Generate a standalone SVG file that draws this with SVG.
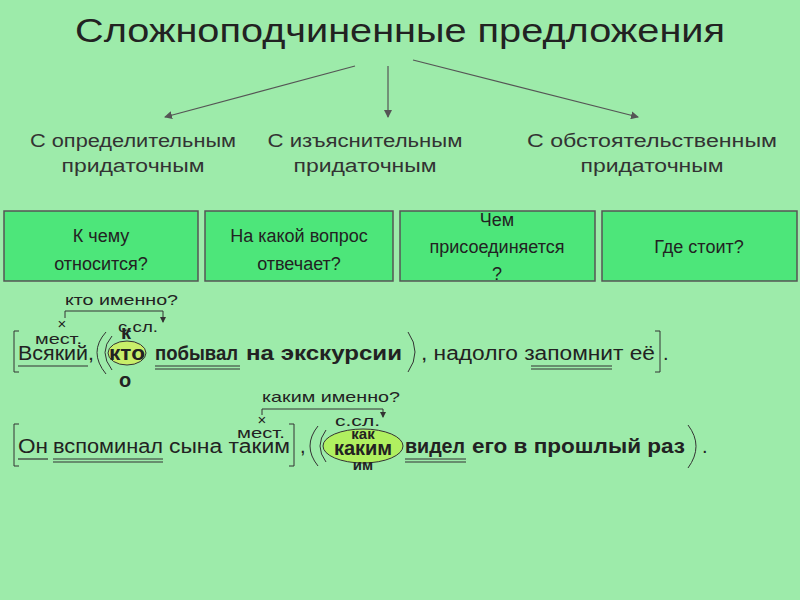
<svg xmlns="http://www.w3.org/2000/svg" width="800" height="600" viewBox="0 0 800 600">
<defs>
<marker id="ah" markerWidth="8" markerHeight="8" refX="7" refY="4" orient="auto" markerUnits="userSpaceOnUse"><path d="M0,0 L8,4 L0,8 z" fill="#555"/></marker>
<marker id="sa" markerWidth="6" markerHeight="6" refX="5" refY="3" orient="auto" markerUnits="userSpaceOnUse"><path d="M0,0 L6,3 L0,6 z" fill="#333"/></marker>
<style>
text{font-family:"Liberation Sans",Arial,sans-serif;fill:#222}
.lab{font-size:18px;text-anchor:middle;fill:#333}
.box{fill:#4de67a;stroke:#555;stroke-width:1.5}
.bt{font-size:18px;text-anchor:middle}
.s{font-size:20px}
.b{font-weight:bold}
.sm{font-size:15px}
.ln{stroke:#333;stroke-width:1;fill:none}
.u{stroke:#333;stroke-width:1.2}
</style>
</defs>
<rect width="800" height="600" fill="#9debaa"/>
<text x="75" y="42" font-size="34" textLength="650" lengthAdjust="spacingAndGlyphs">Сложноподчиненные предложения</text>
<g id="connectors" stroke="#555" stroke-width="1.2" fill="none">
<line x1="355" y1="66" x2="165" y2="117" marker-end="url(#ah)"/>
<line x1="388" y1="66" x2="388" y2="117" marker-end="url(#ah)"/>
<line x1="413" y1="60" x2="638" y2="117" marker-end="url(#ah)"/>
</g>
<g id="l1"><text class="lab" x="133" y="147" textLength="206" lengthAdjust="spacingAndGlyphs">С определительным</text><text class="lab" x="133" y="172" textLength="143" lengthAdjust="spacingAndGlyphs">придаточным</text></g>
<g id="l2"><text class="lab" x="365" y="147" textLength="195" lengthAdjust="spacingAndGlyphs">С изъяснительным</text><text class="lab" x="365" y="172" textLength="143" lengthAdjust="spacingAndGlyphs">придаточным</text></g>
<g id="l3"><text class="lab" x="652" y="147" textLength="250" lengthAdjust="spacingAndGlyphs">С обстоятельственным</text><text class="lab" x="652" y="172" textLength="143" lengthAdjust="spacingAndGlyphs">придаточным</text></g>
<g id="b1"><rect class="box" x="4" y="211" width="194" height="70"/><text class="bt" x="101" y="242">К чему</text><text class="bt" x="101" y="270">относится?</text></g>
<g id="b2"><rect class="box" x="205" y="211" width="188" height="70"/><text class="bt" x="299" y="242">На какой вопрос</text><text class="bt" x="299" y="270">отвечает?</text></g>
<g id="b3"><rect class="box" x="400" y="211" width="195" height="70"/><text class="bt" x="497" y="226">Чем</text><text class="bt" x="497" y="253">присоединяется</text><text class="bt" x="497" y="280">?</text></g>
<g id="b4"><rect class="box" x="602" y="211" width="195" height="70"/><text class="bt" x="699" y="253">Где стоит?</text></g>

<g id="sentence1">
<path class="ln" d="M19,331 L14,331 L14,372 L19,372"/>
<text class="sm" x="65" y="305" textLength="113" lengthAdjust="spacingAndGlyphs">кто именно?</text>
<path class="ln" d="M65,318 L65,311 L163,311 L163,322" marker-end="url(#sa)"/>
<text class="sm" x="62" y="329" text-anchor="middle">×</text>
<text class="sm" x="35" y="344" textLength="47" lengthAdjust="spacingAndGlyphs">мест.</text>
<text class="s" x="18" y="360" textLength="76" lengthAdjust="spacingAndGlyphs">Всякий,</text>
<line class="u" x1="18" y1="366" x2="88" y2="366"/>
<path class="ln" d="M106,332 Q88,352 106,374" stroke-width="1.3"/>
<path class="ln" d="M112,336 Q98,352 112,370"/>
<ellipse cx="127" cy="353" rx="19" ry="12" fill="#c8ee6a" stroke="#333"/>
<text class="sm" x="118" y="332" textLength="40" lengthAdjust="spacingAndGlyphs">с.сл.</text>
<text class="s b" x="126" y="339" text-anchor="middle" font-size="14">к</text>
<text class="s b" x="127" y="360" text-anchor="middle" textLength="36" lengthAdjust="spacingAndGlyphs">кто</text>
<text class="s b" x="125" y="387" text-anchor="middle">о</text>
<text class="s b" x="155" y="360" textLength="83" lengthAdjust="spacingAndGlyphs">побывал</text>
<line class="u" x1="155" y1="366" x2="240" y2="366"/><line class="u" x1="155" y1="369" x2="240" y2="369"/>
<text class="s b" x="246" y="360" textLength="156" lengthAdjust="spacingAndGlyphs">на экскурсии</text>
<path class="ln" d="M408,332 Q422,352 408,372" stroke-width="1.3"/>
<text class="s" x="421" y="360" textLength="234" lengthAdjust="spacingAndGlyphs">, надолго запомнит её</text>
<line class="u" x1="531" y1="366" x2="612" y2="366"/><line class="u" x1="531" y1="369" x2="612" y2="369"/>
<path class="ln" d="M655,331 L660,331 L660,372 L655,372"/>
<text class="s" x="663" y="360">.</text>
</g>

<g id="sentence2">
<path class="ln" d="M19,424 L14,424 L14,466 L19,466"/>
<text class="sm" x="262" y="402" textLength="138" lengthAdjust="spacingAndGlyphs">каким именно?</text>
<path class="ln" d="M262,415 L262,409 L383,409 L383,417" marker-end="url(#sa)"/>
<text class="sm" x="262" y="425" text-anchor="middle">×</text>
<text class="sm" x="335" y="426" textLength="45" lengthAdjust="spacingAndGlyphs">с.сл.</text>
<text class="sm" x="237" y="438" textLength="48" lengthAdjust="spacingAndGlyphs">мест.</text>
<text class="s" x="18" y="453" textLength="30" lengthAdjust="spacingAndGlyphs">Он</text>
<line class="u" x1="18" y1="459" x2="48" y2="459"/>
<text class="s" x="53" y="453" textLength="110" lengthAdjust="spacingAndGlyphs">вспоминал</text>
<line class="u" x1="53" y1="459" x2="163" y2="459"/><line class="u" x1="53" y1="462" x2="163" y2="462"/>
<text class="s" x="169" y="453" textLength="121" lengthAdjust="spacingAndGlyphs">сына таким</text>
<path class="ln" d="M289,424 L294,424 L294,466 L289,466"/>
<text class="s" x="300" y="453">,</text>
<path class="ln" d="M318,426 Q302,446 318,466" stroke-width="1.3"/>
<path class="ln" d="M326,430 Q314,446 326,462"/>
<ellipse cx="363" cy="446" rx="40" ry="17" fill="#b0f060" stroke="#333"/>
<text class="sm b" x="363" y="439" text-anchor="middle">как</text>
<text class="s b" x="363" y="455" text-anchor="middle" font-size="18">каким</text>
<text class="sm b" x="363" y="470" text-anchor="middle">им</text>
<text class="s b" x="405" y="453" textLength="60" lengthAdjust="spacingAndGlyphs">видел</text>
<line class="u" x1="405" y1="459" x2="466" y2="459"/><line class="u" x1="405" y1="462" x2="466" y2="462"/>
<text class="s b" x="472" y="453" textLength="213" lengthAdjust="spacingAndGlyphs">его в прошлый раз</text>
<path class="ln" d="M688,425 Q704,446 688,468" stroke-width="1.3"/>
<text class="s" x="702" y="453">.</text>
</g>
</svg>
